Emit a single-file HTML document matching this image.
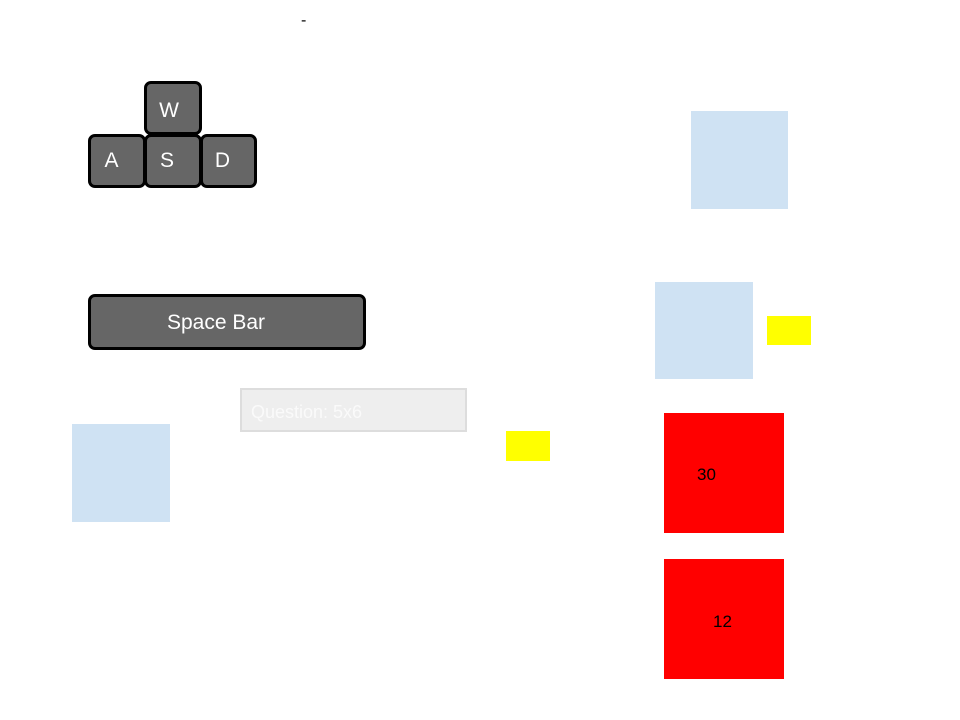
<!DOCTYPE html>
<html><head><style>
body{margin:0;width:960px;height:720px;background:#fff;position:relative;overflow:hidden;font-family:"Liberation Sans",sans-serif}
div{position:absolute;box-sizing:border-box}
.k{background:#666;border:3.5px solid #000;border-radius:7px;color:#fff;font-size:21px;display:flex;align-items:center;justify-content:center;padding-right:11px}
.b{background:#cfe2f3}
.y{background:#ff0}
.r{background:#f00;font-size:17px;color:#000}
</style></head><body>
<div style="left:301px;top:12px;font-size:16px">-</div>
<div class="k" style="left:144px;top:81px;width:58px;height:54px;padding-top:5px;padding-right:8px">W</div>
<div class="k" style="left:88px;top:134px;width:58px;height:54px">A</div>
<div class="k" style="left:144px;top:134px;width:58px;height:54px;padding-right:12px">S</div>
<div class="k" style="left:200px;top:134px;width:57px;height:54px;padding-right:12px">D</div>
<div class="k" style="left:88px;top:294px;width:278px;height:56px;padding-right:22px;padding-top:2px">Space Bar</div>
<div style="left:240px;top:388px;width:227px;height:44px;background:#eee;border:2px solid #ddd;color:#fafafa;font-size:18px;padding:12px 0 0 9px">Question: 5x6</div>
<div class="y" style="left:506px;top:431px;width:44px;height:30px"></div>
<div class="y" style="left:767px;top:316px;width:44px;height:29px"></div>
<div class="b" style="left:691px;top:111px;width:97px;height:98px"></div>
<div class="b" style="left:655px;top:282px;width:98px;height:97px"></div>
<div class="b" style="left:72px;top:424px;width:98px;height:98px"></div>
<div class="r" style="left:664px;top:413px;width:120px;height:120px"><span style="position:absolute;left:33px;top:52px">30</span></div>
<div class="r" style="left:664px;top:559px;width:120px;height:120px"><span style="position:absolute;left:49px;top:53px">12</span></div>
</body></html>
